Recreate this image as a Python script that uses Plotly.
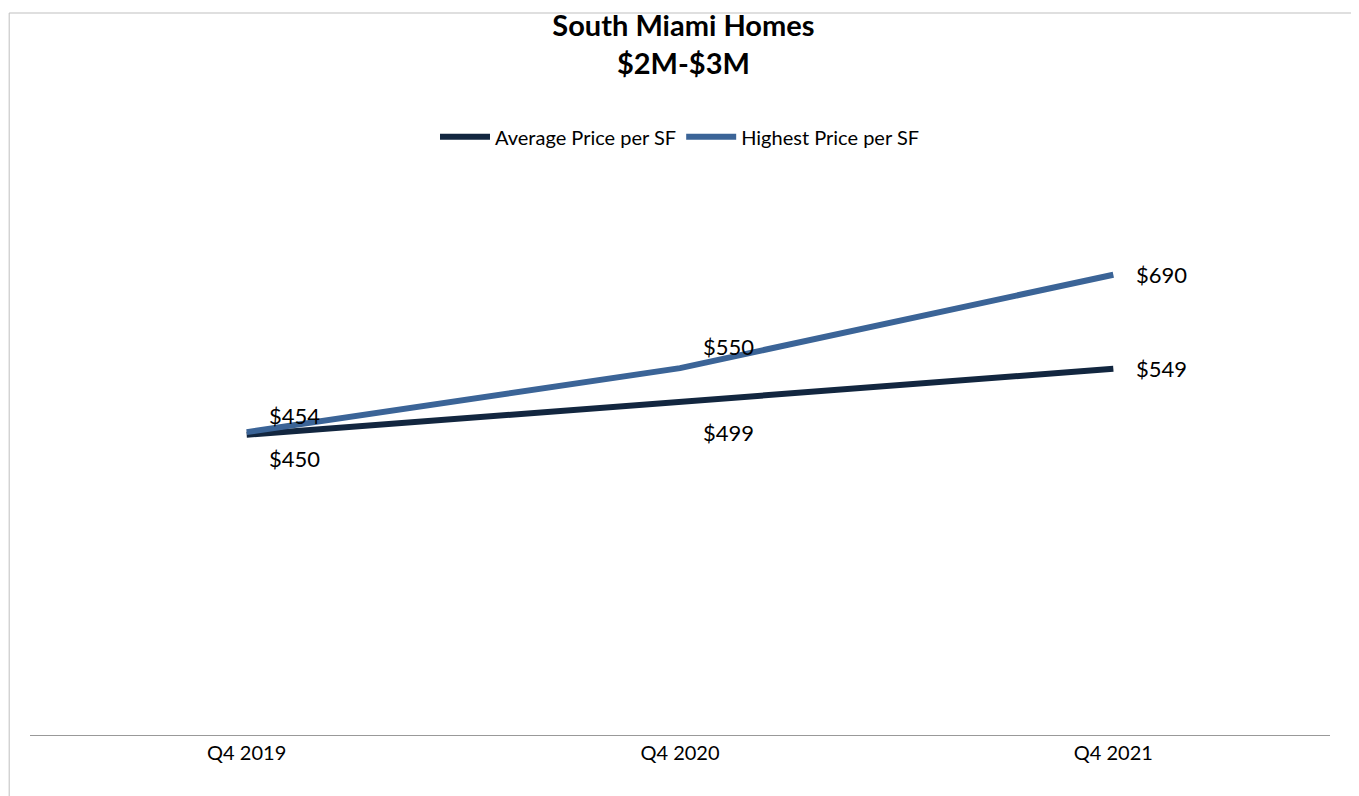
import plotly.graph_objects as go

quarters = ["Q4 2019", "Q4 2020", "Q4 2021"]
avg_price = [450, 499, 549]
high_price = [454, 550, 690]

avg_labels = [f"${v}" for v in avg_price]
high_labels = [f"${v}" for v in high_price]

fig = go.Figure()
fig.add_trace(go.Scatter(x=quarters, y=avg_price, mode="lines", name="Average Price per SF",
                         line=dict(color="#12263f", width=6)))
fig.add_trace(go.Scatter(x=quarters, y=high_price, mode="lines", name="Highest Price per SF",
                         line=dict(color="#3b6497", width=6)))

# label offsets (px) per point, right end goes to the side
avg_shift = [(48, -24), (48, -30), (48, 0)]
high_shift = [(48, 17), (48, 22), (48, 0)]
for q, t, v, (dx, dy) in zip(quarters, avg_labels, avg_price, avg_shift):
    fig.add_annotation(x=q, y=v, text=t, showarrow=False, xshift=dx, yshift=dy,
                       font=dict(size=22, color="black"))
for q, t, v, (dx, dy) in zip(quarters, high_labels, high_price, high_shift):
    fig.add_annotation(x=q, y=v, text=t, showarrow=False, xshift=dx, yshift=dy,
                       font=dict(size=22, color="black"))

fig.update_layout(
    width=1359, height=796,
    font=dict(family="Lato", size=20, color="black"),
    title=dict(text="<b>South Miami Homes<br>$2M-$3M</b>", x=0.497, y=0.965, xanchor="center",
               yanchor="top", font=dict(size=29)),
    legend=dict(orientation="h", x=0.5, xanchor="center", y=1.135, yanchor="middle",
                font=dict(size=20), itemwidth=50),
    paper_bgcolor="white", plot_bgcolor="white",
    margin=dict(l=22, r=37, t=200, b=69),
    showlegend=True,
)
fig.update_xaxes(range=[-0.5, 2.5], showline=True, linecolor="#999999", linewidth=1,
                 ticks="", showgrid=False, tickfont=dict(size=20))
fig.update_yaxes(range=[0, 790], visible=False, showgrid=False)
fig.add_shape(type="rect", xref="paper", yref="paper", x0=-0.016, x1=1.027, y0=-0.117, y1=1.37,
              line=dict(color="#bfbfbf", width=1))

fig.write_html("out.html")
